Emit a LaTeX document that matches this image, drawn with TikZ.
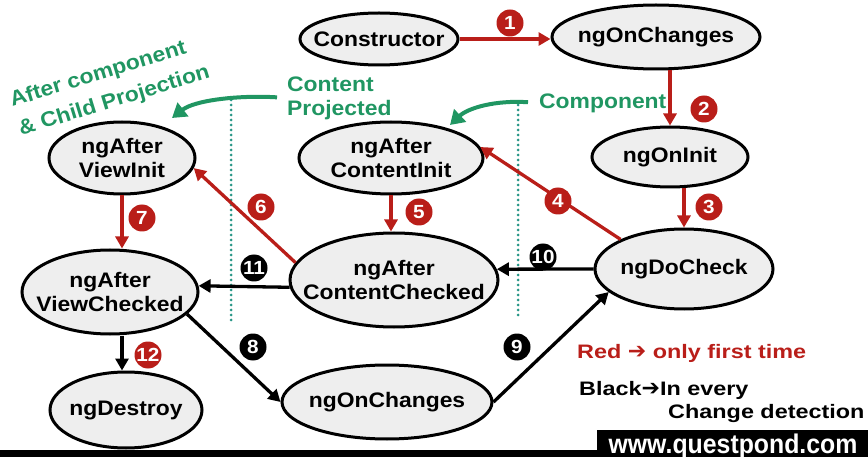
\documentclass[tikz,border=0pt]{standalone}
\usepackage{fontspec}
\setmainfont{Liberation Sans}[FakeStretch=1.09]
\newfontfamily\legendfont{Liberation Sans}[FakeStretch=1.2]
\newfontfamily\sitefont{Liberation Sans}[FakeStretch=0.92]
\newfontfamily\arrowfont{DejaVu Sans}
\usetikzlibrary{arrows.meta,shapes.geometric}
\definecolor{flowred}{RGB}{185,30,25}
\definecolor{projgreen}{RGB}{32,150,98}
\definecolor{dotteal}{RGB}{40,150,135}
\definecolor{hookgray}{RGB}{238,238,238}

\begin{document}
\begin{tikzpicture}[x=1pt,y=-1pt,
  hook/.style={ellipse, draw, line width=3pt, fill=hookgray, inner xsep=-30pt, inner ysep=-30pt,
    align=center, font=\bfseries\fontsize{21}{24}\selectfont},
  redflow/.style={draw=flowred, line width=3.3pt, -{Triangle[length=12pt,width=13pt]}},
  blackflow/.style={draw=black, line width=3.3pt, -{Triangle[length=12pt,width=13pt]}},
  greenflow/.style={draw=projgreen, line width=4pt, -{Triangle[length=14pt,width=17pt]}},
  badge/.style={circle, fill=#1, text=white, inner sep=0pt, minimum size=27pt,
    font=\bfseries\fontsize{19}{19}\selectfont},
  greentext/.style={text=projgreen, inner sep=0pt, font=\bfseries\fontsize{21}{24}\selectfont},
  legend/.style={inner sep=0pt, font=\legendfont\bfseries\fontsize{19.5}{22}\selectfont},
  divider/.style={draw=dotteal, line width=3pt, line cap=round, dash pattern=on 0pt off 5pt}]
  \useasboundingbox (0,0) rectangle (868,457);
  % Dotted separators
  \draw[divider] (231,100) -- (231,323);
  \draw[divider] (518,105) -- (518,318);
  % Lifecycle hooks
  \node[hook, minimum width=158pt, minimum height=52pt] (ctor) at (379,39) {Constructor};
  \node[hook, minimum width=208pt, minimum height=64pt] (onchA) at (656,37) {ngOnChanges};
  \node[hook, minimum width=156pt, minimum height=60pt] (init) at (670,157) {ngOnInit};
  \node[hook, minimum width=178pt, minimum height=80pt] (check) at (684,269) {ngDoCheck};
  \node[hook, minimum width=184pt, minimum height=72pt] (cinit) at (391,158) {ngAfter\\ContentInit};
  \node[hook, minimum width=146pt, minimum height=72pt] (vinit) at (122,158) {ngAfter\\ViewInit};
  \node[hook, minimum width=208pt, minimum height=94pt] (cchecked) at (394,280) {ngAfter\\ContentChecked};
  \node[hook, minimum width=176pt, minimum height=84pt] (vchecked) at (110,292) {ngAfter\\ViewChecked};
  \node[hook, minimum width=152pt, minimum height=76pt] (destroy) at (126,410) {ngDestroy};
  \node[hook, minimum width=210pt, minimum height=74pt] (onchB) at (387,402) {ngOnChanges};
  % First time only (red)
  \draw[redflow] (ctor.east) -- (ctor.east -| onchA.west);
  \draw[redflow] (onchA.south -| init.north) -- (init.north);
  \draw[redflow] (init.south -| check.north) -- (check.north);
  \draw[redflow] (check.155) -- (cinit.7);
  \draw[redflow] (cinit.south) -- (cinit.south |- cchecked.north);
  \draw[redflow] (cchecked.170) -- (vinit.-8);
  \draw[redflow] (vinit.south) -- (vinit.south |- vchecked.north);
  % Every change detection (black)
  \draw[blackflow] (vchecked.-16) -- (onchB.west);
  \draw[blackflow] (onchB.east) -- (check.197);
  \draw[blackflow] (check.west) -- (cchecked.6);
  \draw[blackflow] (cchecked.184) -- (vchecked.4);
  \draw[blackflow] (vchecked.south -| vinit.south) -- (vinit.south |- destroy.north);
  % Step numbers
  \node[badge=flowred] (n1) at (510,23) {1};
  \node[badge=flowred] (n2) at (704,109) {2};
  \node[badge=flowred] (n3) at (709,207) {3};
  \node[badge=flowred] (n4) at (558,201) {4};
  \node[badge=flowred] (n5) at (419,212) {5};
  \node[badge=flowred] (n6) at (261,207) {6};
  \node[badge=flowred] (n7) at (142,218) {7};
  \node[badge=black] (n8) at (253,347) {8};
  \node[badge=black] (n9) at (517,347) {9};
  \node[badge=black] (n10) at (543,257) {10};
  \node[badge=black] (n11) at (254,268) {11};
  \node[badge=flowred] (n12) at (148,355) {12};
  % Projection notes
  \node[greentext, anchor=west] (comp) at (539,103) {Component};
  \coordinate (compTip) at (450,125);
  \draw[greenflow, shorten <=11pt] (comp.west) .. controls (495,100) and (468,108) .. (compTip);
  \node[greentext, anchor=west, align=left] (proj) at (287,98) {Content\\Projected};
  \coordinate (projTip) at (172,118);
  \draw[greenflow, shorten <=10pt] (proj.west) .. controls (240,95) and (195,100) .. (projTip);
  \node[greentext, rotate=17, align=left, font=\bfseries\fontsize{21}{30}\selectfont] (after) at (110,87) {After component\\\& Child Projection};
  % Legend
  \node[legend, text=flowred, anchor=west] (redkey) at (577,353) {Red {\arrowfont\fontsize{22}{22}\selectfont ➔} only first time};
  \node[legend, anchor=west] (blackkey) at (579,390) {Black{\arrowfont\fontsize{22}{22}\selectfont ➔}In every};
  \node[legend, anchor=west] (blackmore) at (668,413) {Change detection};
  % Footer
  \fill (0,450) rectangle (868,457);
  \fill (597,430) rectangle (868,457);
  \node[text=white, inner sep=0pt, anchor=base, font=\sitefont\bfseries\fontsize{27}{27}\selectfont] (site) at (733,453) {www.questpond.com};
\end{tikzpicture}
\end{document}
